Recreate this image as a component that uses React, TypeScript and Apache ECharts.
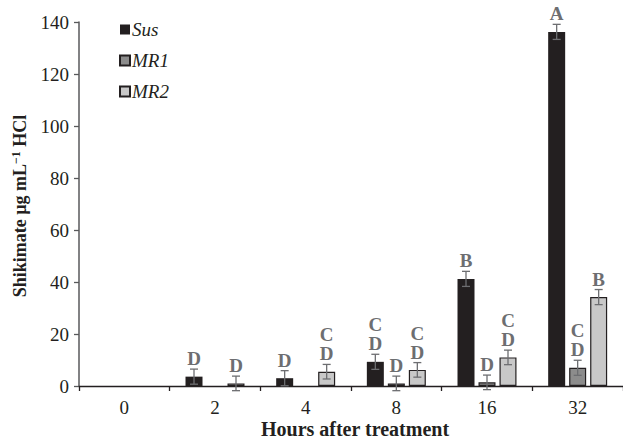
import React, { useEffect, useRef } from "react";
import * as echarts from "echarts";

const categories = ["0", "2", "4", "8", "16", "32"];
const seriesNames = ["Sus", "MR1", "MR2"];
const susValues = [null, 3.6, 3, 9.3, 41.2, 136.2];
const mr1Values = [null, null, null, 1, 1.4, 7];
const mr2Values = [null, 1, 5.5, 6.2, 11, 34.2];
const susErrors = [0, 2.9, 2.9, 2.9, 2.9, 2.9];
const mr1Errors = [0, 0, 0, 2.8, 2.8, 2.9];
const mr2Errors = [0, 2.8, 2.8, 2.8, 2.8, 2.9];
const susLetters = ["", "D", "D", "C\nD", "B", "A"];
const mr1Letters = ["", "", "", "D", "D", "C\nD"];
const mr2Letters = ["", "D", "C\nD", "C\nD", "C\nD", "B"];
const yTicks = { min: 0, max: 140, interval: 20 };

const FAM = "Liberation Serif";
const FONT = "'Liberation Serif', serif";
const colors = ["#231f20", "#8c8c8c", "#c8c8c8"];
const borders = ["#231f20", "#231f20", "#231f20"];
const BAR_W = 17;
const GAP = 4;

export default function App() {
  const ref = useRef<HTMLDivElement>(null);
  useEffect(() => {
    if (!ref.current) return;
    const chart = echarts.init(ref.current, undefined, { renderer: "svg" });
    const vals = [susValues, mr1Values, mr2Values];
    const errs = [susErrors, mr1Errors, mr2Errors];
    const letters = [susLetters, mr1Letters, mr2Letters];

    const barSeries = seriesNames.map((name, si) => ({
      name,
      type: "bar",
      data: vals[si],
      barWidth: BAR_W,
      barGap: ((GAP / BAR_W) * 100).toFixed(1) + "%",
      itemStyle: { color: colors[si], borderColor: borders[si], borderWidth: si === 0 ? 0 : 1.2 },
      z: 2,
    }));

    const errData: any[] = [];
    seriesNames.forEach((_, si) => {
      categories.forEach((_, ci) => {
        const v = vals[si][ci];
        if (v === null || v === undefined) return;
        errData.push([ci, v, errs[si][ci], si, letters[si][ci]]);
      });
    });

    const errSeries = {
      type: "custom",
      z: 5,
      silent: true,
      data: errData,
      renderItem: (params: any, api: any) => {
        const ci = api.value(0);
        const v = api.value(1);
        const e = api.value(2);
        const si = api.value(3);
        const letter = errData[params.dataIndex][4];
        const offset = (si - 1) * (BAR_W + GAP);
        const base = api.coord([ci, v]);
        const x = base[0] + offset;
        const top = api.coord([ci, v + e])[1];
        const bot = api.coord([ci, v - e])[1];
        const style = { stroke: "#6d6e71", lineWidth: 1.3 };
        const children: any[] = [];
        if (e > 0) {
          children.push(
            { type: "line", shape: { x1: x, y1: top, x2: x, y2: bot }, style },
            { type: "line", shape: { x1: x - 4, y1: top, x2: x + 4, y2: top }, style },
            { type: "line", shape: { x1: x - 4, y1: bot, x2: x + 4, y2: bot }, style }
          );
        }
        if (letter) {
          children.push({
            type: "text",
            x,
            y: top - 1,
            style: {
              text: letter,
              font: `bold 19px ${FONT}`,
              fill: "#6d6e71",
              align: "center",
              verticalAlign: "bottom",
              lineHeight: 19,
            },
          });
        }
        return { type: "group", children };
      },
    };

    chart.setOption({
      animation: false,
      textStyle: { fontFamily: FAM },
      grid: { left: 79, top: 22, bottom: 54, right: -8 },
      legend: {
        orient: "vertical",
        left: 114,
        top: 15,
        itemWidth: 10,
        itemHeight: 10,
        itemGap: 12,
        icon: "rect",
        data: seriesNames,
        textStyle: { fontFamily: FAM, fontStyle: "italic", fontSize: 19, color: "#231f20", padding: [0, 0, 0, -3] },
      },
      xAxis: {
        type: "category",
        data: categories,
        axisLine: { lineStyle: { color: "#231f20", width: 1.3 } },
        axisTick: { show: true, length: 5, lineStyle: { color: "#231f20", width: 1.3 } },
        axisLabel: { fontFamily: FAM, fontSize: 19, color: "#231f20", margin: 12 },
      },
      yAxis: {
        type: "value",
        min: yTicks.min,
        max: yTicks.max,
        interval: yTicks.interval,
        splitLine: { show: false },
        axisLine: { show: true, lineStyle: { color: "#58595b", width: 1.5 } },
        axisTick: { show: true, length: 5, lineStyle: { color: "#58595b", width: 1.3 } },
        axisLabel: { fontFamily: FAM, fontSize: 19, color: "#231f20", margin: 10 },
      },
      graphic: [
        {
          type: "text",
          x: 355,
          y: 429,
          style: {
            text: "Hours after treatment",
            font: `bold 20px ${FONT}`,
            fill: "#231f20",
            align: "center",
            verticalAlign: "middle",
          },
        },
        {
          type: "text",
          x: 20,
          y: 206,
          rotation: Math.PI / 2,
          style: {
            text: "Shikimate µg mL{sup|−1} HCl",
            font: `bold 18px ${FONT}`,
            fill: "#231f20",
            align: "center",
            verticalAlign: "middle",
            rich: {
              sup: { fontSize: 12, fontWeight: "bold", fontFamily: FAM, fill: "#231f20", verticalAlign: "top", lineHeight: 20, padding: [0, 0, 7, 0] },
            },
          },
        },
      ],
      series: [...barSeries, errSeries],
    });
    return () => chart.dispose();
  }, []);
  return <div ref={ref} style={{ width: 623, height: 440, position: "absolute", left: 0, top: 0 }} />;
}
